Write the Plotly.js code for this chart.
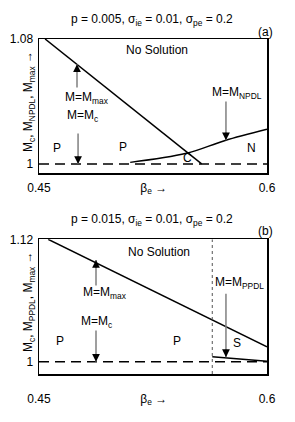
<!DOCTYPE html>
<html><head><meta charset="utf-8">
<script src="https://cdn.plot.ly/plotly-3.0.1.min.js"></script>
<style>html,body{margin:0;padding:0;background:#fff}#c{width:295px;height:422px}</style>
</head><body><div id="c"></div>
<script>
// ---- data ----
const betaRange = [0.45, 0.6];
const unityLevel = [1, 1];
// panel (a)
const betaMaxA = [0.454, 0.557];
const mMaxA = [1.08, 1.0];
const betaNpdlA = [0.51, 0.547, 0.572, 0.6];
const mNpdlA = [1.001, 1.0068, 1.0149, 1.0222];
const yTicksA = [1, 1.08];
const yRangeA = [0.9942, 1.08];
// panel (b)
const betaMaxB = [0.456, 0.6];
const mMaxB = [1.12, 1.0147];
const betaPpdlB = [0.564, 0.578, 0.6];
const mPpdlB = [1.005, 1.0033, 1.0005];
const boundaryB = 0.564;
const yTicksB = [1, 1.12];
const yRangeB = [0.988, 1.12];
// x tick labels (axis label sits on the tick row, as in the original)
const xTicks = [0.45, 0.5255, 0.6];
const xTickText = ['0.45', 'β<sub>e</sub> →', '0.6'];

const FONT = 'Arial';
const solid = {color: '#000', width: 1.5};
const dashed = {color: '#000', width: 1.5, dash: '10px,6px'};

const traces = [
  {x: betaRange.slice(), y: unityLevel.slice(), xaxis: 'x', yaxis: 'y', mode: 'lines', line: dashed},
  {x: betaMaxA, y: mMaxA, xaxis: 'x', yaxis: 'y', mode: 'lines', line: solid},
  {x: betaNpdlA, y: mNpdlA, xaxis: 'x', yaxis: 'y', mode: 'lines', line: Object.assign({shape: 'spline'}, solid)},
  {x: betaRange.slice(), y: unityLevel.slice(), xaxis: 'x2', yaxis: 'y2', mode: 'lines', line: dashed},
  {x: betaMaxB, y: mMaxB, xaxis: 'x2', yaxis: 'y2', mode: 'lines', line: solid},
  {x: betaPpdlB, y: mPpdlB, xaxis: 'x2', yaxis: 'y2', mode: 'lines', line: Object.assign({shape: 'spline'}, solid)},
  {x: [boundaryB, boundaryB], y: yRangeB.slice(), xaxis: 'x2', yaxis: 'y2', mode: 'lines', line: {color: '#555', width: 1, dash: 'dot'}}
];

function xax(anchor, standoff) {
  return {domain: [39/295, 267/295], range: betaRange.slice(), autorange: false, anchor: anchor,
    tickmode: 'array', tickvals: xTicks, ticktext: xTickText, ticklabelstandoff: standoff,
    showline: true, mirror: true, linecolor: '#000', linewidth: 1.5, ticks: '', showgrid: false, zeroline: false,
    tickfont: {family: FONT, size: 12, color: '#000'}};
}
function yax(domain, range, ticks, anchor) {
  return {domain: domain, range: range.slice(), autorange: false, anchor: anchor,
    tickmode: 'array', tickvals: ticks, ticktext: ticks.map(String), ticklabelstandoff: 2,
    showline: true, mirror: true, linecolor: '#000', linewidth: 1.5, ticks: '', showgrid: false, zeroline: false,
    tickfont: {family: FONT, size: 12, color: '#000'}};
}

const txt = (xref, yref, x, y, text, extra) => Object.assign({xref, yref, x, y, text, showarrow: false,
  xanchor: 'center', yanchor: 'middle',
  font: {family: FONT, size: 12, color: '#000'}}, extra || {});
const py = p => 1 - p / 422;
const px = p => p / 295;

function arrow(xref, yref, x, yTail, yTip) {
  const up = yTip > yTail;
  return [
    {xref, yref, axref: xref, ayref: yref, x: x, y: yTip, ax: x, ay: yTail, text: '', showarrow: true,
      arrowhead: 0, arrowwidth: 1.5, arrowcolor: '#808080'},
    {xref, yref, x: x, y: yTip, ax: 0, ay: up ? 9 : -9, text: '', showarrow: true,
      arrowhead: 2, arrowsize: 1.3, arrowwidth: 1.2, arrowcolor: '#000'}
  ];
}

const annotations = [
  // panel (a)
  txt('paper', 'paper', px(152), py(20), 'p = 0.005, σ<sub>ie</sub> = 0.01, σ<sub>pe</sub> = 0.2'),
  txt('paper', 'paper', px(265), py(32), '(a)'),
  txt('paper', 'paper', px(29), py(102), 'M<sub>c</sub>, M<sub>NPDL</sub>, M<sub>max</sub> →', {textangle: -90}),
  txt('x', 'y', 0.5276, 1.073, 'No Solution'),
  txt('x', 'y', 0.4816, 1.0425, 'M=M<sub>max</sub>'),
  txt('x', 'y', 0.4783, 1.031, 'M=M<sub>c</sub>'),
  txt('x', 'y', 0.4618, 1.0102, 'P'),
  txt('x', 'y', 0.5053, 1.0109, 'P'),
  txt('x', 'y', 0.5474, 1.0038, 'C'),
  txt('x', 'y', 0.5901, 1.0102, 'N'),
  txt('x', 'y', 0.5803, 1.0455, 'M=M<sub>NPDL</sub>'),
  ...arrow('x', 'y', 0.475, 1.048, 1.0638),
  ...arrow('x', 'y', 0.4757, 1.0205, 1.0),
  ...arrow('x', 'y', 0.573, 1.041, 1.0152),
  // panel (b)
  txt('paper', 'paper', px(152), py(220), 'p = 0.015, σ<sub>ie</sub> = 0.01, σ<sub>pe</sub> = 0.2'),
  txt('paper', 'paper', px(265), py(231), '(b)'),
  txt('paper', 'paper', px(29), py(302), 'M<sub>c</sub>, M<sub>PPDL</sub>, M<sub>max</sub> →', {textangle: -90}),
  txt('x2', 'y2', 0.5289, 1.1075, 'No Solution'),
  txt('x2', 'y2', 0.4934, 1.0674, 'M=M<sub>max</sub>'),
  txt('x2', 'y2', 0.4875, 1.039, 'M=M<sub>c</sub>'),
  txt('x2', 'y2', 0.4638, 1.0203, 'P'),
  txt('x2', 'y2', 0.5408, 1.0203, 'P'),
  txt('x2', 'y2', 0.5803, 1.0183, 'S'),
  txt('x2', 'y2', 0.5822, 1.077, 'M=M<sub>PPDL</sub>'),
  ...arrow('x2', 'y2', 0.4875, 1.0732, 1.0997),
  ...arrow('x2', 'y2', 0.4875, 1.032, 1.0),
  ...arrow('x2', 'y2', 0.573, 1.068, 1.0045)
];

const layout = {
  width: 295, height: 422, margin: {l: 0, r: 0, t: 0, b: 0, pad: 0}, autosize: false,
  paper_bgcolor: '#fff', plot_bgcolor: '#fff', showlegend: false,
  font: {family: FONT, size: 12, color: '#000'},
  xaxis: xax('y', 3),
  yaxis: yax([1 - 173/422, 1 - 39/422], yRangeA, yTicksA, 'x'),
  xaxis2: xax('y2', 13),
  yaxis2: yax([1 - 374/422, 1 - 239.3/422], yRangeB, yTicksB, 'x2'),
  annotations: annotations
};

Plotly.newPlot('c', traces, layout, {staticPlot: true, displayModeBar: false});
</script></body></html>
